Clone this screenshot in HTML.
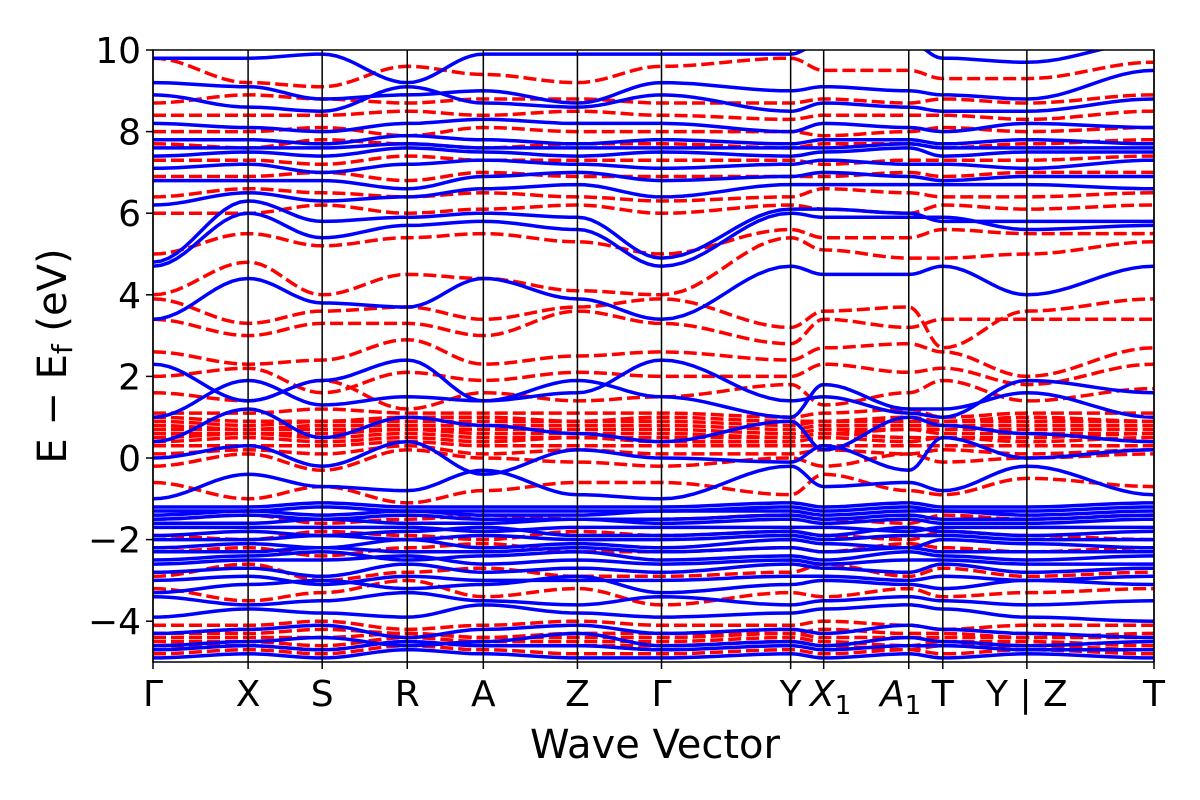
<!DOCTYPE html>
<html><head><meta charset="utf-8"><style>
body{margin:0;background:#fff}
svg{display:block}
text{font-family:"DejaVu Sans","Liberation Sans",sans-serif;fill:#000}
</style></head><body>
<svg id="chart" width="1200" height="800" viewBox="0 0 1200 800">
<defs><clipPath id="clip"><rect x="153" y="50" width="1001" height="612"/></clipPath></defs>
<g id="bands" clip-path="url(#clip)"></g>
<g id="axes"></g>
</svg>
<script>
const kLabels=["Γ","X","S","R","A","Z","Γ","Y","X1","A1","T","Y | Z","T"];
const kPositions=[0,0.095,0.169,0.254,0.33,0.424,0.508,0.637,0.67,0.755,0.789,0.873,1.0];
const yTicks=[-4,-2,0,2,4,6,8,10];
const blueBands=[
[-4.9,-4.8,-4.9,-4.7,-4.8,-4.9,-4.9,-4.8,-4.9,-4.8,-4.9,-4.8,-4.9],
[-4.7,-4.6,-4.7,-4.5,-4.6,-4.6,-4.7,-4.6,-4.7,-4.6,-4.6,-4.7,-4.7],
[-4.6,-4.5,-4.4,-4.6,-4.5,-4.3,-4.6,-4.5,-4.6,-4.4,-4.5,-4.6,-4.5],
[-4.3,-4.2,-4.1,-4.4,-4.2,-4.1,-4.3,-4.2,-4.3,-4.1,-4.2,-4.3,-4.4],
[-3.9,-3.7,-3.8,-3.9,-3.6,-3.8,-3.9,-3.8,-3.7,-3.6,-3.7,-3.9,-4.0],
[-3.4,-3.6,-3.5,-3.3,-3.5,-3.6,-3.4,-3.6,-3.5,-3.4,-3.5,-3.6,-3.5],
[-3.3,-3.1,-3.0,-3.2,-3.1,-2.9,-3.3,-3.1,-3.0,-3.1,-3.2,-3.0,-3.1],
[-3.0,-2.9,-3.1,-2.9,-3.0,-3.0,-3.0,-2.9,-2.9,-3.0,-2.9,-3.0,-2.9],
[-2.8,-2.7,-2.9,-2.6,-2.8,-2.7,-2.8,-2.6,-2.7,-2.8,-2.6,-2.8,-2.7],
[-2.6,-2.5,-2.5,-2.4,-2.6,-2.5,-2.6,-2.5,-2.6,-2.5,-2.5,-2.6,-2.6],
[-2.5,-2.4,-2.3,-2.5,-2.4,-2.3,-2.5,-2.4,-2.5,-2.3,-2.4,-2.5,-2.4],
[-2.3,-2.3,-2.2,-2.3,-2.3,-2.2,-2.3,-2.2,-2.3,-2.2,-2.3,-2.3,-2.3],
[-2.2,-2.1,-2.2,-2.0,-2.2,-2.1,-2.2,-2.0,-2.1,-2.2,-2.0,-2.1,-2.2],
[-2.0,-2.0,-1.9,-2.0,-1.9,-2.0,-2.0,-1.9,-2.0,-1.9,-1.9,-2.0,-2.0],
[-1.9,-1.8,-1.9,-1.8,-1.7,-1.9,-1.9,-1.8,-1.9,-1.7,-1.8,-1.9,-1.8],
[-1.7,-1.7,-1.7,-1.7,-1.8,-1.7,-1.7,-1.7,-1.7,-1.8,-1.7,-1.7,-1.7],
[-1.6,-1.6,-1.5,-1.6,-1.6,-1.5,-1.6,-1.5,-1.6,-1.5,-1.6,-1.6,-1.5],
[-1.5,-1.4,-1.5,-1.4,-1.5,-1.5,-1.5,-1.4,-1.5,-1.4,-1.5,-1.5,-1.4],
[-1.4,-1.3,-1.4,-1.3,-1.4,-1.4,-1.3,-1.3,-1.4,-1.3,-1.3,-1.4,-1.3],
[-1.3,-1.3,-1.2,-1.3,-1.3,-1.3,-1.3,-1.2,-1.3,-1.2,-1.3,-1.3,-1.2],
[-1.2,-1.2,-1.1,-1.2,-1.2,-1.2,-1.2,-1.1,-1.2,-1.1,-1.2,-1.2,-1.1],
[-1.0,-0.4,-0.7,-0.8,-0.3,-0.9,-1.0,-0.2,-0.7,-0.6,-0.8,-0.2,-0.9],
[0.0,0.3,-0.2,0.4,-0.4,0.2,0.0,-0.1,0.3,-0.3,0.5,0.0,0.2],
[0.4,1.2,0.5,1.0,0.8,0.6,0.4,0.9,0.2,1.0,0.8,0.6,0.4],
[1.0,1.9,1.3,1.5,1.4,1.9,1.5,1.0,1.8,1.2,1.2,1.6,1.0],
[2.3,1.4,1.9,2.4,1.4,1.6,2.4,1.4,1.5,1.1,1.0,1.9,1.6],
[3.4,4.4,3.8,3.7,4.4,3.9,3.4,4.7,4.5,4.5,4.7,4.0,4.7],
[4.7,6.0,5.4,5.7,5.8,5.6,4.7,6.0,5.9,5.9,5.9,5.6,5.7],
[4.8,6.3,5.8,5.9,6.0,5.9,4.9,6.1,6.1,6.0,5.8,5.8,5.8],
[6.2,6.5,6.3,6.4,6.6,6.7,6.4,6.7,6.7,6.7,6.7,6.7,6.6],
[6.8,6.8,6.8,6.6,6.9,7.0,6.8,6.9,7.0,6.9,6.8,6.9,6.9],
[7.1,7.2,7.0,7.2,7.3,7.2,7.1,7.2,7.3,7.2,7.2,7.1,7.3],
[7.4,7.5,7.4,7.6,7.5,7.4,7.5,7.4,7.5,7.6,7.4,7.5,7.5],
[7.6,7.6,7.6,7.7,7.6,7.6,7.6,7.6,7.6,7.7,7.6,7.6,7.6],
[7.8,7.8,7.7,7.9,7.8,7.7,7.8,7.7,7.8,7.8,7.7,7.8,7.7],
[8.2,8.1,8.0,8.2,8.3,8.2,8.2,8.0,8.2,8.1,8.0,8.2,8.1],
[8.9,8.6,8.5,9.1,8.7,8.6,8.9,8.5,8.7,8.6,8.5,8.5,8.8],
[9.2,9.1,8.8,8.9,9.0,8.7,9.2,9.0,9.1,9.0,8.9,8.8,9.5],
[9.8,9.8,9.9,9.2,9.9,9.9,9.9,9.9,10.2,10.2,9.8,9.7,10.2]
];
const redBands=[
[-4.8,-4.7,-4.8,-4.6,-4.7,-4.8,-4.8,-4.7,-4.8,-4.7,-4.8,-4.7,-4.8],
[-4.6,-4.6,-4.7,-4.5,-4.6,-4.6,-4.6,-4.5,-4.6,-4.7,-4.6,-4.6,-4.7],
[-4.5,-4.5,-4.6,-4.4,-4.5,-4.5,-4.5,-4.4,-4.5,-4.6,-4.5,-4.5,-4.6],
[-4.4,-4.4,-4.4,-4.3,-4.4,-4.4,-4.4,-4.3,-4.4,-4.4,-4.4,-4.4,-4.4],
[-4.3,-4.3,-4.2,-4.3,-4.4,-4.3,-4.3,-4.3,-4.2,-4.3,-4.3,-4.4,-4.3],
[-4.1,-4.1,-4.0,-4.2,-4.1,-4.0,-4.1,-4.1,-4.0,-4.1,-4.2,-4.1,-4.1],
[-3.2,-3.5,-3.3,-3.0,-3.4,-3.2,-3.6,-3.3,-3.4,-3.2,-3.4,-3.3,-3.2],
[-2.9,-2.6,-3.0,-2.8,-2.7,-2.9,-2.9,-2.8,-2.6,-2.9,-2.7,-2.9,-2.8],
[-2.3,-2.2,-2.4,-2.2,-2.1,-2.3,-2.3,-2.2,-2.3,-2.1,-2.2,-2.3,-2.2],
[-1.9,-2.0,-1.8,-1.9,-2.0,-1.8,-1.9,-1.8,-1.9,-2.0,-1.8,-1.9,-2.0],
[-1.5,-1.4,-1.6,-1.5,-1.4,-1.5,-1.5,-1.4,-1.5,-1.6,-1.4,-1.5,-1.4],
[-0.6,-1.0,-0.7,-1.1,-0.8,-0.6,-0.6,-0.9,-0.4,-0.8,-0.9,-0.5,-0.7],
[-0.2,0.1,-0.3,0.2,0.0,-0.1,-0.2,0.0,-0.2,0.1,-0.1,0.0,0.1],
[0.1,0.2,0.1,0.3,0.1,0.2,0.1,0.1,0.2,0.1,0.2,0.1,0.2],
[0.3,0.3,0.3,0.4,0.3,0.3,0.3,0.3,0.3,0.3,0.3,0.3,0.3],
[0.4,0.5,0.4,0.5,0.4,0.5,0.4,0.4,0.5,0.4,0.5,0.4,0.5],
[0.5,0.6,0.5,0.6,0.5,0.5,0.5,0.5,0.6,0.5,0.5,0.5,0.6],
[0.6,0.6,0.6,0.7,0.6,0.6,0.6,0.5,0.6,0.7,0.6,0.6,0.6],
[0.7,0.7,0.7,0.7,0.7,0.7,0.7,0.6,0.7,0.7,0.7,0.7,0.7],
[0.8,0.7,0.8,0.8,0.8,0.8,0.8,0.7,0.8,0.8,0.8,0.8,0.8],
[0.9,0.8,0.9,0.9,0.9,0.9,0.9,0.8,0.9,0.9,0.9,0.9,0.9],
[1.0,0.9,0.9,1.0,1.0,0.9,1.0,0.9,0.9,1.0,0.9,1.0,0.9],
[1.1,1.1,1.2,1.1,1.1,1.1,1.1,1.0,1.1,1.2,1.0,1.1,1.1],
[1.6,1.4,1.9,1.2,1.6,1.4,1.5,1.8,1.3,1.6,1.9,1.4,1.7],
[2.0,2.2,1.6,2.1,1.9,2.1,2.0,2.0,2.3,2.1,2.2,1.8,2.3],
[2.6,2.3,2.4,2.9,2.3,2.5,2.6,2.4,2.7,2.8,2.6,2.0,2.7],
[3.4,3.0,3.3,3.3,3.0,3.6,3.3,2.8,3.4,3.2,3.4,3.4,3.4],
[3.9,3.3,3.6,3.7,3.4,3.7,3.9,3.2,3.6,3.7,2.7,3.6,3.9],
[4.0,4.8,4.0,4.5,4.4,4.1,4.0,5.4,5.1,4.9,4.9,5.0,5.3],
[5.0,5.5,5.2,5.4,5.5,5.3,5.0,5.6,5.4,5.4,5.6,5.5,5.5],
[6.0,6.0,6.2,6.0,6.1,6.2,6.0,6.2,6.1,6.0,6.2,6.1,6.2],
[6.4,6.6,6.5,6.4,6.5,6.4,6.3,6.4,6.6,6.5,6.4,6.4,6.5],
[6.9,6.9,7.0,6.8,7.0,6.9,6.9,6.9,6.9,7.0,6.9,7.0,7.0],
[7.3,7.3,7.2,7.4,7.3,7.3,7.3,7.3,7.2,7.3,7.3,7.3,7.4],
[7.7,7.6,7.8,7.7,7.6,7.7,7.7,7.6,7.7,7.7,7.6,7.7,7.8],
[8.0,8.0,8.1,7.9,8.1,8.0,8.0,8.0,7.9,8.0,8.1,8.0,8.1],
[8.4,8.4,8.4,8.5,8.4,8.5,8.4,8.3,8.4,8.4,8.4,8.3,8.5],
[8.7,8.9,8.8,8.7,8.8,8.8,8.7,8.7,8.8,8.7,8.8,8.7,8.9],
[9.8,9.2,9.1,9.6,9.4,9.2,9.6,9.8,9.5,9.5,9.3,9.3,9.7]
];
const X0=153,X1=1154,Y0=50,Y1=662,EMIN=-5,EMAX=10;
const xs=k=>X0+k*(X1-X0);
const ys=e=>Y1-(e-EMIN)/(EMAX-EMIN)*(Y1-Y0);
const NS="http://www.w3.org/2000/svg";
const bands=document.getElementById('bands'),axes=document.getElementById('axes');
function bandPath(vals){
  let d="";
  for(let i=0;i<vals.length-1;i++){
    for(let s=0;s<=12;s++){
      const t=s/12, w=(1-Math.cos(Math.PI*t))/2;
      const k=kPositions[i]+(kPositions[i+1]-kPositions[i])*t;
      const e=vals[i]+(vals[i+1]-vals[i])*w;
      d+=(d?"L":"M")+xs(k).toFixed(1)+","+ys(e).toFixed(1);
    }
  }
  return d;
}
redBands.forEach(v=>{const p=document.createElementNS(NS,'path');
p.setAttribute('d',bandPath(v));p.setAttribute('fill','none');p.setAttribute('stroke','#ff0000');p.setAttribute('stroke-width','3.5');p.setAttribute('stroke-dasharray','13,5');


bands.appendChild(p);});
blueBands.forEach(v=>{const p=document.createElementNS(NS,'path');
p.setAttribute('d',bandPath(v));p.setAttribute('fill','none');p.setAttribute('stroke','#0000ff');p.setAttribute('stroke-width','3.5');


bands.appendChild(p);});
function el(tag,attrs,parent,txt){const e=document.createElementNS(NS,tag);for(const a in attrs)e.setAttribute(a,attrs[a]);if(txt!==undefined)e.textContent=txt;parent.appendChild(e);return e;}
kPositions.forEach((k,i)=>{
  const l=el('line',{x1:xs(k),x2:xs(k),y1:Y0,y2:Y1+7,stroke:'#000','stroke-width':1.5},axes);
  
  
  const lab=kLabels[i];
  const t=el('text',{x:xs(k),y:706,'font-size':36,'text-anchor':'middle'},axes);
  if(lab==="X1"||lab==="A1"){
    el('tspan',{'font-style':'italic'},t,lab[0]);
    el('tspan',{'font-size':26,dy:8},t,'1');
    t.setAttribute('x',xs(k)+(lab==="X1"?7:-8));
  } else t.textContent=lab;
  
  
});
yTicks.forEach(v=>{
  const l=el('line',{x1:X0-7,x2:X0,y1:ys(v),y2:ys(v),stroke:'#000','stroke-width':1.5},axes);
  
  
  const t=el('text',{x:X0-12,y:ys(v)+13,'font-size':36,'text-anchor':'end'},axes,v<0?'−'+Math.abs(v):String(v));
  
  
});
const fr=el('rect',{x:X0,y:Y0,width:X1-X0,height:Y1-Y0,fill:'none',stroke:'#000','stroke-width':1.5},axes);


const xt=el('text',{x:655,y:758,'font-size':40,'text-anchor':'middle'},axes,'Wave Vector');


const yt=el('text',{x:0,y:0,'font-size':40,'text-anchor':'middle',transform:'translate(66,356) rotate(-90)'},axes);
el('tspan',{},yt,'E − E');
el('tspan',{'font-size':28,dy:6},yt,'f');
el('tspan',{dy:-6},yt,' (eV)');


</script>
</body></html>
